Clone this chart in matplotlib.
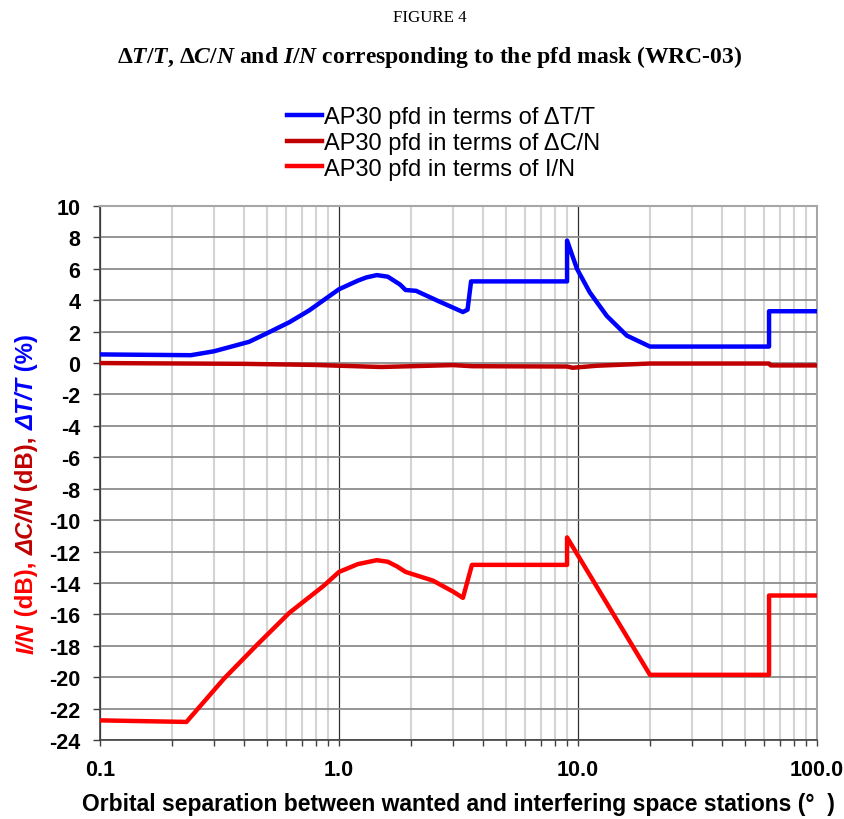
import matplotlib
matplotlib.use("Agg")
import matplotlib.pyplot as plt
from matplotlib.ticker import FixedLocator, NullFormatter

# orbital separation (deg) and the three curves
dtt_x = [0.1, 0.24, 0.3, 0.42, 0.5, 0.62, 0.75, 0.88, 1.0, 1.2, 1.3, 1.44, 1.6, 1.8, 1.9,
         2.1, 2.6, 3.3, 3.45, 3.57, 9.0, 9.0, 9.9, 11.2, 13.2, 16.0, 20.0, 63.0, 63.0, 100.0]
dtt_y = [0.55, 0.5, 0.75, 1.35, 1.9, 2.6, 3.35, 4.1, 4.7, 5.25, 5.45, 5.6, 5.5, 5.0, 4.65,
         4.6, 3.95, 3.25, 3.4, 5.2, 5.2, 7.8, 6.0, 4.5, 3.0, 1.75, 1.05, 1.05, 3.3, 3.3]

dcn_x = [0.1, 0.4, 0.8, 1.0, 1.5, 2.0, 3.0, 3.6, 9.0, 9.5, 12.0, 20.0, 63.0, 64.0, 100.0]
dcn_y = [0.0, -0.05, -0.12, -0.17, -0.25, -0.2, -0.13, -0.2, -0.22, -0.3, -0.17, -0.03, -0.03, -0.15, -0.15]

in_x = [0.1, 0.23, 0.33, 0.45, 0.62, 0.86, 1.0, 1.2, 1.44, 1.6, 1.75, 1.9, 2.47, 3.0,
        3.3, 3.6, 9.0, 9.0, 20.0, 63.0, 63.0, 100.0]
in_y = [-22.75, -22.85, -20.1, -18.0, -15.9, -14.2, -13.3, -12.8, -12.55, -12.65, -12.95, -13.3,
        -13.85, -14.55, -14.95, -12.85, -12.85, -11.1, -19.85, -19.85, -14.8, -14.8]

x_major = [0.1, 1.0, 10.0, 100.0]
x_major_labels = ["0.1", "1.0", "10.0", "100.0"]
y_ticks = list(range(-24, 11, 2))

plt.rcParams["font.family"] = ["Liberation Sans", "DejaVu Sans"]
plt.rcParams["axes.unicode_minus"] = False
plt.rcParams["mathtext.fontset"] = "custom"
plt.rcParams["mathtext.rm"] = "Liberation Serif:bold"
plt.rcParams["mathtext.it"] = "Liberation Serif:italic:bold"
plt.rcParams["mathtext.bf"] = "Liberation Serif:bold"

W, H = 845, 820
fig = plt.figure(figsize=(W / 100, H / 100), dpi=100)
ax = fig.add_axes([100 / W, 1 - 741 / H, 717 / W, 534 / H])

l1, = ax.plot(dtt_x, dtt_y, color="#0000ff", lw=3.2, solid_joinstyle="round", zorder=5)
l2, = ax.plot(dcn_x, dcn_y, color="#c00000", lw=3.2, solid_joinstyle="round", zorder=5)
l3, = ax.plot(in_x, in_y, color="#ff0000", lw=3.2, solid_joinstyle="round", zorder=5)

ax.set_xscale("log")
ax.set_xlim(0.1, 100)
ax.set_ylim(-24, 10)
ax.set_xticks(x_major)
ax.set_xticklabels(x_major_labels)
minors = [m * d for d in (0.1, 1, 10) for m in range(2, 10)]
ax.xaxis.set_minor_locator(FixedLocator(minors))
ax.xaxis.set_minor_formatter(NullFormatter())
ax.set_yticks(y_ticks)

# grid
ax.grid(which="major", axis="y", color="#8c8c8c", lw=1.3, zorder=1)
ax.grid(which="major", axis="x", color="#303030", lw=0.9, zorder=2)
ax.grid(which="minor", axis="x", color="#d4d4d4", lw=1.5, zorder=1)

for s in ("top", "right"):
    ax.spines[s].set_color("#a6a6a6")
    ax.spines[s].set_linewidth(1.5)
for s in ("left", "bottom"):
    ax.spines[s].set_color("#404040")
    ax.spines[s].set_linewidth(1.2)

ax.tick_params(axis="y", which="major", length=5, width=1, color="#404040", pad=9,
               labelsize=15.5, labelcolor="black")
ax.tick_params(axis="x", which="both", length=4, width=1, color="#404040", pad=10,
               labelsize=15.5)
for lab in ax.get_xticklabels() + ax.get_yticklabels():
    lab.set_fontweight("bold")

ax.set_xlabel("Orbital separation between wanted and interfering space stations (°  )",
              fontsize=16.5, fontweight="bold", labelpad=8)

# titles
fig.text(430 / W, 1 - 18 / H, "FIGURE 4", ha="center", va="center",
         family="Liberation Serif", fontsize=12.2)
fig.text(430 / W, 1 - 57 / H,
         r"$\Delta\mathit{T/T}$, $\Delta\mathit{C/N}$ and $\mathit{I/N}$ corresponding to the pfd mask (WRC-03)",
         ha="center", va="center", family="Liberation Serif", fontweight="bold", fontsize=17)

# legend
fig.legend([l1, l2, l3],
           ["AP30 pfd in terms of ΔT/T", "AP30 pfd in terms of ΔC/N", "AP30 pfd in terms of I/N"],
           loc="upper left", bbox_to_anchor=(287 / W, 1 - 107 / H), frameon=False,
           fontsize=17, handlelength=1.5, handletextpad=0.05, labelspacing=0.16,
           borderpad=0, borderaxespad=0)

# multicoloured y label, built bottom-up
parts = [("I/N", "#ff0000", "italic"), (" (dB), ", "#ff0000", "normal"),
         ("ΔC/N", "#c00000", "italic"), (" (dB), ", "#c00000", "normal"),
         ("ΔT/T", "#0000ff", "italic"), (" (%)", "#0000ff", "normal")]
fig.canvas.draw()
renderer = fig.canvas.get_renderer()
ypix = 654
for txt, col, sty in parts:
    t = fig.text(27 / W, (H - ypix) / H, txt, rotation=90, ha="center", va="bottom",
                 color=col, fontstyle=sty, fontweight="bold", fontsize=17.3)
    bb = t.get_window_extent(renderer)
    ypix -= bb.height

fig.savefig("out.png", dpi=100)
